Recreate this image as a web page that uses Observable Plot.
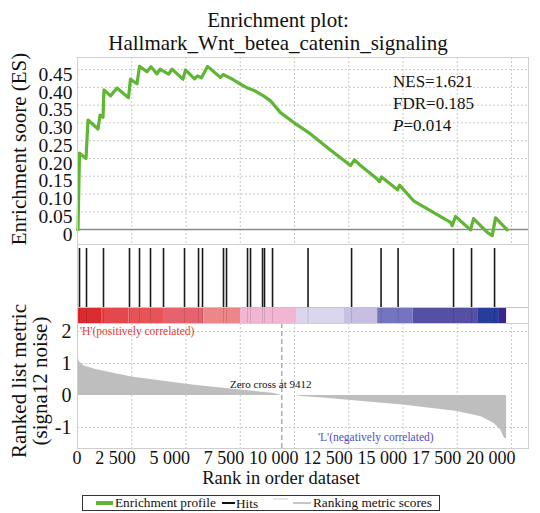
<!DOCTYPE html>
<html><head><meta charset="utf-8">
<script src="https://cdn.jsdelivr.net/npm/d3@7"></script>
<script src="https://cdn.jsdelivr.net/npm/@observablehq/plot@0.6"></script>
<style>
html,body{margin:0;padding:0;background:#fff;}
#chart{position:relative;width:540px;height:513px;font-family:"Liberation Serif","Times New Roman",serif;color:#111;overflow:hidden;}
#chart svg{position:absolute;left:0;}
.abs{position:absolute;white-space:nowrap;line-height:1;}
.sw{position:absolute;display:block;}
</style></head><body><div id="chart"></div>
<script>
// ---- data ----
const title = ["Enrichment plot:", "Hallmark_Wnt_betea_catenin_signaling"];
const esRank  = [0, 23, 92, 392, 484, 945, 1037, 1175, 1221, 1521, 1820, 2350, 2442, 2742, 2857, 3203, 3387, 3663, 3802, 4193, 4355, 4862, 4977, 5391, 5530, 5714, 5990, 6589, 6705, 7050, 7511, 7834, 8110, 8571, 8893, 9354, 9967, 10737, 11506, 12580, 12764, 13041, 13810, 13917, 14009, 14746, 14838, 15483, 17188, 17266, 17418, 18109, 18248, 18879, 19109, 19261, 19800];
const esValue = [0, 0, 0.215, 0.200, 0.308, 0.283, 0.322, 0.316, 0.393, 0.376, 0.398, 0.371, 0.423, 0.410, 0.459, 0.444, 0.458, 0.438, 0.451, 0.437, 0.451, 0.423, 0.449, 0.424, 0.432, 0.427, 0.459, 0.428, 0.436, 0.426, 0.409, 0.398, 0.392, 0.376, 0.362, 0.329, 0.301, 0.269, 0.231, 0.180, 0.196, 0.180, 0.142, 0.135, 0.148, 0.112, 0.125, 0.081, 0.020, 0.011, 0.037, -0.001, 0.031, -0.008, -0.017, 0.033, -0.001];
const hitRanks = [92, 415, 1198, 2396, 2857, 3364, 3963, 4931, 5576, 5760, 6728, 6866, 7834, 7972, 8525, 8617, 8986, 10622, 12628, 13987, 14771, 17326, 18156, 19216];
const metricRank  = [0, 92, 300, 900, 1500, 2500, 3800, 5300, 7500, 9000, 9412, 10100, 10300, 11300, 12600, 15000, 17500, 18600, 19200, 19500, 19680, 19770];
const metricValue = [1.22, 1.05, 0.92, 0.80, 0.72, 0.58, 0.46, 0.33, 0.17, 0.07, 0, 0, -0.03, -0.08, -0.16, -0.30, -0.50, -0.67, -0.88, -1.08, -1.35, -1.35];
const barStart = [0, 1140, 2370, 3980, 5820, 7510, 10120, 12280, 13830, 15460, 18440, 19440];
const barEnd   = [1140, 2370, 3980, 5820, 7510, 10120, 12280, 13830, 15460, 18440, 19440, 19770];
const barColor = ["#da2c30", "#e4484c", "#e65458", "#e6626f", "#ec8688", "#f0b6d2", "#d9d6ee", "#c6bfe2", "#7574c0", "#5550a4", "#283c9c", "#3b2690"];
const zeroCross = 9412;
const xTicks = [0, 2500, 5000, 7500, 10000, 12500, 15000, 17500, 20000];
const xTickLabels = ["0", "2 500", "5 000", "7 500", "10 000", "12 500", "15 000", "17 500", "20 000"];
const esTicks = [0, 0.05, 0.10, 0.15, 0.20, 0.25, 0.30, 0.35, 0.40, 0.45];
const esTickLabels = ["0", "0.05", "0.10", "0.15", "0.20", "0.25", "0.30", "0.35", "0.40", "0.45"];
const metricTicks = [-1, 0, 1, 2];
const metricTickLabels = ["-1", "0", "1", "2"];
const stats = ["NES=1.621", "FDR=0.185", "P=0.014"];
const legendLabels = ["Enrichment profile", "Hits", "Ranking metric scores"];

// ---- layout ----
const chart = document.getElementById("chart");
const W = 540, ML = 77, MR = 12;
const xDomain = [0, 20780];
const gridStyle = {stroke: "#c8c8c8", strokeOpacity: 1, strokeDasharray: "2,2"};
const baseStyle = {background: "transparent", fontFamily: "Liberation Serif", color: "#111", overflow: "visible"};

const es = esRank.map((r, i) => ({r, v: esValue[i]}));
const metric = metricRank.map((r, i) => ({r, v: metricValue[i]}));
const bars = barStart.map((s, i) => ({s, e: barEnd[i], c: barColor[i]}));

// Panel 1: enrichment score
const p1 = Plot.plot({
  width: W, height: 246, marginTop: 57, marginBottom: 2, marginLeft: ML, marginRight: MR,
  style: {...baseStyle, fontSize: "19px"},
  x: {domain: xDomain, axis: null},
  y: {domain: [-0.042, 0.484], axis: null},
  marks: [
    Plot.gridY(esTicks.filter(d => d > 0), gridStyle),
    Plot.gridX(xTicks.filter(d => d > 0), gridStyle),
    Plot.ruleY([0], {stroke: "#8a8a8a", strokeWidth: 1.5}),
    Plot.line(es, {x: "r", y: "v", stroke: "#5fb534", strokeWidth: 3.2, strokeLinejoin: "round"}),
    Plot.axisY(esTicks, {label: null, tickSize: 0, tickPadding: 5, dy: 5, fontSize: 19.5, tickFormat: d => esTickLabels[esTicks.indexOf(d)]}),
    Plot.frame({stroke: "#cfcfcf"})
  ]
});
p1.style.top = "0px";
chart.appendChild(p1);

// Panel 2: hits + colour bar
const p2 = Plot.plot({
  width: W, height: 79, marginTop: 0, marginBottom: 0, marginLeft: ML, marginRight: MR,
  style: baseStyle,
  x: {domain: xDomain, axis: null},
  y: {domain: [0, 79], axis: null},
  marks: [
    Plot.rect(bars, {x1: "s", x2: "e", y1: 0, y2: 16, fill: "c"}),
    Plot.ruleX(hitRanks, {y1: 0, y2: 16, stroke: "#000", strokeOpacity: 0.12, strokeWidth: 1}),
    Plot.ruleX(hitRanks, {y1: 16, y2: 75, stroke: "#1a1a1a", strokeWidth: 1.6}),
    Plot.ruleY([16], {stroke: "#c4c4c4"}),
    Plot.ruleY([79], {stroke: "#9a9a9a", strokeWidth: 1.2}),
    Plot.frame({stroke: "#cfcfcf"})
  ]
});
p2.style.top = "244px";
chart.appendChild(p2);

// Panel 3: ranked list metric
const p3 = Plot.plot({
  width: W, height: 155, marginTop: 0, marginBottom: 30, marginLeft: ML, marginRight: MR,
  style: {...baseStyle, fontSize: "18px"},
  x: {domain: xDomain},
  y: {domain: [-1.66, 2.25]},
  marks: [
    Plot.gridY([-1, 1, 2], gridStyle),
    Plot.gridX(xTicks.filter(d => d > 0), gridStyle),
    Plot.areaY(metric, {x: "r", y: "v", fill: "#bebebe"}),
    Plot.ruleX([zeroCross], {stroke: "#9a9a9a", strokeDasharray: "5,3", strokeWidth: 1.2}),
    Plot.axisY(metricTicks, {tickSize: 0, tickPadding: 6, fontSize: 20, label: null, tickFormat: d => metricTickLabels[metricTicks.indexOf(d)]}),
    Plot.axisX(xTicks, {tickSize: 0, tickPadding: 3, fontSize: 18, textAnchor: "end", dx: 4, label: null, tickFormat: d => xTickLabels[xTicks.indexOf(d)]}),
    Plot.frame({stroke: "#cfcfcf"})
  ]
});
p3.style.top = "323px";
chart.appendChild(p3);

// ---- HTML text ----
function addText(html, css, parent) {
  const d = document.createElement("div");
  d.className = "abs";
  d.innerHTML = html;
  Object.assign(d.style, css);
  (parent || chart).appendChild(d);
  return d;
}
addText(title[0], {left: "28px", width: "500px", textAlign: "center", top: "10px", fontSize: "21px"});
addText(title[1], {left: "28px", width: "500px", textAlign: "center", top: "33px", fontSize: "21px"});
addText("Enrichment soore (ES)", {left: "19px", top: "149px", fontSize: "21px", transform: "translate(-50%,-50%) rotate(-90deg)"});
addText("Ranked list metric", {left: "19px", top: "381px", fontSize: "21px", transform: "translate(-50%,-50%) rotate(-90deg)"});
addText("(signa12 noise)", {left: "40px", top: "381px", fontSize: "21px", transform: "translate(-50%,-50%) rotate(-90deg)"});
addText(stats[0], {left: "393px", top: "73px", fontSize: "17px"});
addText(stats[1], {left: "393px", top: "95px", fontSize: "17px"});
addText("<i>P</i>" + stats[2].slice(1), {left: "393px", top: "117px", fontSize: "17px"});
addText("'H'(positively correlated)", {left: "80px", top: "326px", fontSize: "11.5px", color: "#e03c3c"});
addText("Zero cross at " + zeroCross, {left: "230px", top: "379px", fontSize: "11px", color: "#111"});
addText("'L'(negatively correlated)", {left: "318px", top: "432px", fontSize: "11.5px", color: "#4f4fbf"});
addText("Rank in order dataset", {left: "31px", width: "500px", textAlign: "center", top: "469px", fontSize: "18.5px"});

// legend
const lg = document.createElement("div");
Object.assign(lg.style, {position: "absolute", left: "82px", top: "495px", width: "356px", height: "14px", border: "1.5px solid #333", background: "#fff"});
chart.appendChild(lg);
function sw(css) { const s = document.createElement("span"); s.className = "sw"; Object.assign(s.style, css); lg.appendChild(s); }
sw({left: "13px", top: "5px", width: "17px", height: "4px", background: "#5fb534"});
addText(legendLabels[0], {left: "32px", top: "0px", fontSize: "13.3px"}, lg);
sw({left: "139px", top: "6px", width: "13px", height: "2px", background: "#111"});
addText(legendLabels[1], {left: "153px", top: "1px", fontSize: "13.3px"}, lg);
sw({left: "190px", top: "2px", width: "15px", height: "2px", background: "#e6e6e6"});
sw({left: "210px", top: "6px", width: "18px", height: "2px", background: "#c6c6c6"});
addText(legendLabels[2], {left: "230px", top: "0px", fontSize: "13.3px"}, lg);
</script></body></html>
